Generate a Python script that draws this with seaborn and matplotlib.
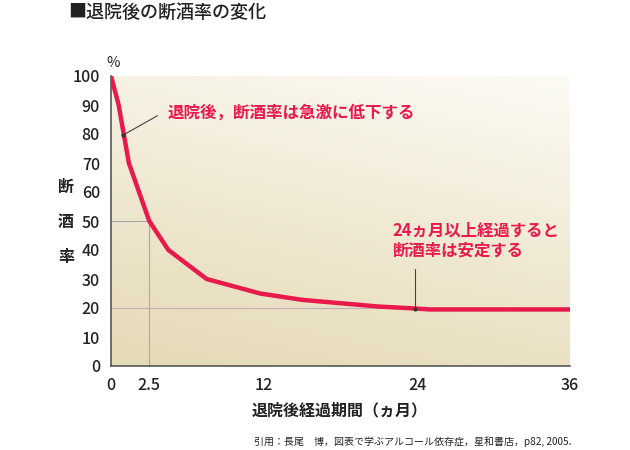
import numpy as np
import pandas as pd
import matplotlib
matplotlib.use("Agg")
import matplotlib.pyplot as plt
import seaborn as sns
from matplotlib.colors import LinearSegmentedColormap

# ---- data ----
months = [0, 0.6, 1.4, 3, 4.5, 7.5, 11.7, 15, 21, 24, 25, 36]
rate = [100, 90, 70, 50, 40, 30, 25, 22.8, 20.5, 19.8, 19.5, 19.5]
xtick_pos = [0, 3, 12, 24, 36]
xtick_labels = ["0", "2.5", "12", "24", "36"]
ytick_vals = list(range(0, 101, 10))
title = "■退院後の断酒率の変化"
ann1 = "退院後，断酒率は急激に低下する"
ann2 = "24ヵ月以上経過すると\n断酒率は安定する"
ylabel_chars = ["断", "酒", "率"]
xlabel = "退院後経過期間（ヵ月）"
source = "引用：長尾　博，図表で学ぶアルコール依存症，星和書店，p82, 2005."

RED = "#e8194b"

sns.set_style("white")
plt.rcParams["font.family"] = ["Noto Sans CJK JP", "DejaVu Sans"]

fig = plt.figure(figsize=(6.3, 4.5), dpi=100)
ax = fig.add_axes([111 / 630, 1 - 366 / 450, (570 - 111) / 630, (366 - 76) / 450])

# background gradient (lighter top-right, darker bottom-left)
gx, gy = np.meshgrid(np.linspace(0, 1, 200), np.linspace(0, 1, 200))
g = np.clip(0.75 * gy + 0.25 * gx, 0, 1)
cmap = LinearSegmentedColormap.from_list("bg", ["#e5dab6", "#f0e9d3", "#fcfbf5"])
ax.imshow(g, cmap=cmap, origin="lower", extent=[0, 1, 0, 1],
          transform=ax.transAxes, aspect="auto", zorder=0)

ax.set_xlim(0, 36)
ax.set_ylim(0, 100)

# reference lines
ax.plot([0, months[3]], [rate[3], rate[3]], color="#a8a8a8", lw=0.8, zorder=1)
ax.plot([months[3], months[3]], [0, rate[3]], color="#a8a8a8", lw=0.8, zorder=1)
ax.plot([0, 24], [20, 20], color="#c4b2b4", lw=0.9, zorder=1)

df = pd.DataFrame({"month": months, "rate": rate})
sns.lineplot(data=df, x="month", y="rate", color=RED, lw=3.2, ax=ax, zorder=3,
             solid_joinstyle="miter")

# annotations
ax.annotate("", xy=(0.94, 79.6), xytext=(3.84, 86.8),
            arrowprops=dict(arrowstyle="-", color="#444444", lw=0.8), zorder=4)
ax.plot([0.94], [79.6], "o", color="#333333", ms=2, zorder=5)
ax.text(4.45, 87.5, ann1, color=RED, fontsize=11.9, fontweight="bold",
        va="center", ha="left", zorder=5)
ax.plot([23.85, 23.85], [19.8, 33.5], color="#444444", lw=0.8, zorder=4)
ax.plot([23.85], [19.8], "o", color="#333333", ms=2, zorder=5)
ax.text(22.1, 43.2, ann2, color=RED, fontsize=11.8, fontweight="bold",
        va="center", ha="left", linespacing=1.1, zorder=5)

# ticks
ax.set_yticks(ytick_vals)
ax.set_yticklabels([str(v) for v in ytick_vals], fontsize=11.5, color="#222222",
                   fontweight="medium")
ax.set_xticks(xtick_pos)
ax.set_xticklabels(xtick_labels, fontsize=11.5, color="#222222", fontweight="medium")
ax.set_xticks(np.arange(0, 37, 1), minor=True)
ax.tick_params(axis="y", direction="out", length=5, width=0.8, color="#555555", pad=3)
ax.tick_params(axis="x", which="major", direction="in", length=6, width=0.9,
               color="#555555", pad=8)
ax.tick_params(axis="x", which="minor", direction="in", length=3.5, width=0.8,
               color="#555555")
for s in ["top", "right"]:
    ax.spines[s].set_visible(False)
for s in ["left", "bottom"]:
    ax.spines[s].set_color("#4a4a4a")
    ax.spines[s].set_linewidth(1.1)
ax.set_xlabel("")
ax.set_ylabel("")

# labels
fig.text(113 / 630, 1 - 63 / 450, "%", fontsize=10.5, ha="center", va="center",
         color="#222222")
for ch, yp in zip(ylabel_chars, [187, 222, 257]):
    fig.text(66 / 630, 1 - yp / 450, ch, fontsize=11.5, ha="center", va="center",
             color="#222222", fontweight="bold")
fig.text(340 / 630, 1 - 410 / 450, xlabel, fontsize=11.5, ha="center", va="center",
         color="#222222", fontweight="bold")
fig.text(68 / 630, 1 - 13 / 450, title, fontsize=13, ha="left", va="center",
         color="#222222", fontweight="medium")
fig.text(572 / 630, 1 - 442 / 450, source, fontsize=7.2, ha="right", va="center",
         color="#222222")

fig.savefig("out.png", dpi=100)
